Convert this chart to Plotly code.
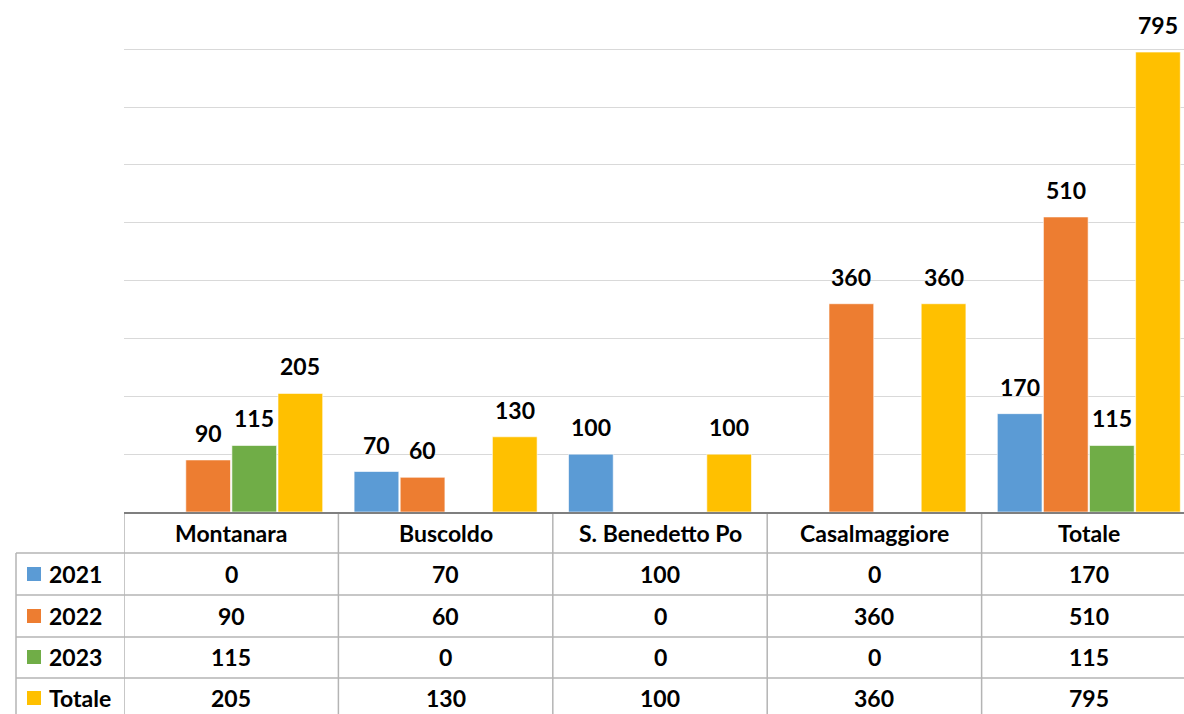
import plotly.graph_objects as go

# data
categories = ['Montanara', 'Buscoldo', 'S. Benedetto Po', 'Casalmaggiore', 'Totale']
series_names = ['2021', '2022', '2023', 'Totale']
values_2021 = [0, 70, 100, 0, 170]
values_2022 = [90, 60, 0, 360, 510]
values_2023 = [115, 0, 0, 0, 115]
values_totale = [205, 130, 100, 360, 795]
colors = ['#5B9BD5', '#ED7D31', '#70AD47', '#FFC000']

series_values = [values_2021, values_2022, values_2023, values_totale]

W, H = 1184, 714
L, R, T, B = 124, 0, 48, 202
plot_w = W - L - R
plot_h = H - T - B
FONT = 'Lato'
FSIZE = 23
GRID_COLOR = '#b4b4b4'
BARGAP = 0.14


def py(pix):
    # pixel row -> paper y
    return (H - B - pix) / plot_h


def px(pix):
    # pixel column -> paper x
    return (pix - L) / plot_w


bold = dict(family=FONT, size=FSIZE, color='black', weight='bold')

fig = go.Figure()
n = len(series_names)
slot = (1 - BARGAP) / n
annotations = []
for k, (name, vals, col) in enumerate(zip(series_names, series_values, colors)):
    fig.add_trace(go.Bar(
        x=categories,
        y=vals,
        name=name,
        marker=dict(color=col, line=dict(color='rgba(255,255,255,0.6)', width=1)),
    ))
    # value labels above bars (zeros are not labelled)
    for i, v in enumerate(vals):
        if v:
            annotations.append(dict(x=i + (k - (n - 1) / 2) * slot, xref='x', y=v, yref='y',
                                    text=str(v), showarrow=False, xanchor='center',
                                    yanchor='bottom', yshift=11, font=bold))

shapes = []

# axis line / table top
shapes.append(dict(type='line', xref='paper', yref='paper', x0=0, x1=1,
                   y0=py(513), y1=py(513), line=dict(color='#7f7f7f', width=2)))
# horizontal row lines
for row_y in [553, 595, 637, 678]:
    shapes.append(dict(type='line', xref='paper', yref='paper', x0=px(16), x1=1,
                       y0=py(row_y), y1=py(row_y), line=dict(color=GRID_COLOR, width=1.5)))
# vertical lines
shapes.append(dict(type='line', xref='paper', yref='paper', x0=px(16), x1=px(16),
                   y0=py(553), y1=py(H + 5), line=dict(color=GRID_COLOR, width=1.5)))
for i in range(len(categories)):
    shapes.append(dict(type='line', xref='x', yref='paper', x0=i - 0.5, x1=i - 0.5,
                       y0=py(514), y1=py(H + 5), line=dict(color=GRID_COLOR, width=1.5)))

# header labels
for cat in categories:
    annotations.append(dict(x=cat, xref='x', y=py(533), yref='paper', text=cat,
                            showarrow=False, xanchor='center', yanchor='middle', font=bold))

# table rows
row_centers = [574, 616, 657, 698]
for name, vals, col, ry in zip(series_names, series_values, colors, row_centers):
    shapes.append(dict(type='rect', xref='paper', yref='paper',
                       x0=px(27), x1=px(41), y0=py(ry - 7), y1=py(ry + 7),
                       fillcolor=col, line=dict(width=0)))
    annotations.append(dict(x=px(47), xref='paper', y=py(ry), yref='paper', text=name,
                            showarrow=False, xanchor='left', yanchor='middle', font=bold))
    for cat, v in zip(categories, vals):
        annotations.append(dict(x=cat, xref='x', y=py(ry), yref='paper', text=str(v),
                                showarrow=False, xanchor='center', yanchor='middle', font=bold))

fig.update_layout(
    width=W, height=H,
    margin=dict(l=L, r=R, t=T, b=B),
    plot_bgcolor='white',
    paper_bgcolor='white',
    showlegend=False,
    barmode='group',
    bargap=BARGAP,
    bargroupgap=0.03,
    shapes=shapes,
    annotations=annotations,
    font=dict(family=FONT),
)
fig.update_xaxes(range=[-0.5, 4.5 - 12 / 214], showticklabels=False, showgrid=False,
                 showline=False, zeroline=False)
fig.update_yaxes(range=[0, 802], dtick=100, showticklabels=False, showgrid=True,
                 gridcolor='#d9d9d9', gridwidth=1, zeroline=False, showline=False)

fig.write_html("out.html", config={'displayModeBar': False},
               post_script="document.body.style.margin='0';")
